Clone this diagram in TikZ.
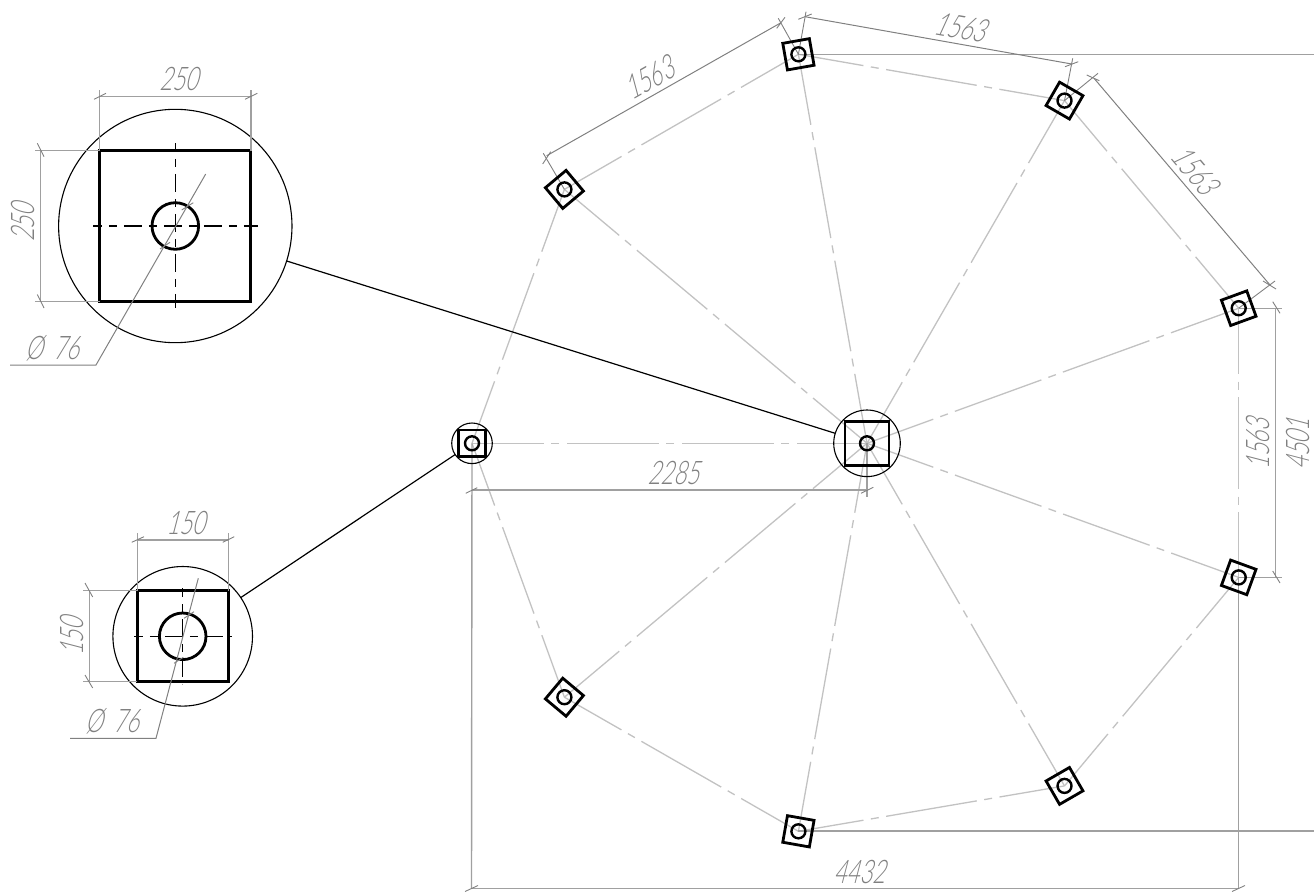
\documentclass[tikz,border=0pt]{standalone}
\usepackage{fontspec}
\newfontfamily\dimf[FakeSlant=0.26,FakeStretch=0.68]{Lato Light}
\definecolor{cgray}{HTML}{C2C2C2}
\definecolor{dgray}{HTML}{A0A0A0}
\definecolor{egray}{HTML}{808080}
\definecolor{tgray}{HTML}{808080}
\tikzset{
  cl/.style={draw=cgray,line width=0.026cm,dash pattern=on 1.84cm off 0.15cm on 0.16cm off 0.15cm},
  chain/.style={cl,dash phase=0.52cm},
  radial/.style={cl,dash phase=0.43cm},
  dimA/.style={draw=dgray,line width=0.028cm},
  dimB/.style={draw=egray,line width=0.02cm},
  tick/.style={draw=egray,line width=0.018cm},
  lab/.style={text=tgray,font=\dimf\fontsize{18.5pt}{20pt}\selectfont,inner sep=0pt},
  pad/.style={draw=black,line width=0.056cm,minimum size=0.54cm,inner sep=0pt,outer sep=0pt},
  bigpad/.style={pad,minimum size=0.88cm},
  hole/.style={circle,draw=black,line width=0.048cm,minimum size=0.28cm,inner sep=0pt,outer sep=0pt},
  ring/.style={circle,draw=black,line width=0.022cm,inner sep=0pt,outer sep=0pt},
  link/.style={draw=black,line width=0.024cm},
  dcenter/.style={draw=black,line width=0.024cm,dash pattern=on 0.36cm off 0.14cm on 0.16cm off 0.14cm},
  leader/.style={draw=egray,line width=0.02cm}
}
\begin{document}
\begin{tikzpicture}[x=0.02cm,y=-0.02cm]
\useasboundingbox (0,0) rectangle (1314,892);
% centres
\coordinate (cC) at (867,443.3);
\coordinate (cL) at (472,443.3);
\coordinate (c1) at (564.4,189.4);
\coordinate (c2) at (798.4,54.3);
\coordinate (c3) at (1064.5,100.6);
\coordinate (c4) at (1238.7,308.2);
\coordinate (c5) at (1238.7,577.4);
\coordinate (c6) at (1064.5,785.9);
\coordinate (c7) at (798.4,831.3);
\coordinate (c8) at (564.4,697.2);
% centre lines
\foreach \a/\b in {cL/c1,c1/c2,c2/c3,c3/c4,c4/c5,c5/c6,c6/c7,c7/c8,c8/cL}
  \draw[chain] (\a) -- (\b);
\foreach \b in {cL,c1,c2,c3,c4,c5,c6,c7,c8}
  \draw[radial] (cC) -- (\b);
% extension and long dimension lines
\coordinate (eR1) at (1314,54.3);
\coordinate (eR2) at (1314,831);
\coordinate (bL) at (471.5,888.5);
\coordinate (bR) at (1238.7,888.5);
\coordinate (e4) at (1281.5,308.2);
\coordinate (e5) at (1281.5,577.4);
\coordinate (d4) at (1275.5,308.2);
\coordinate (d5) at (1275.5,577.4);
\coordinate (eC) at (867,497);
\coordinate (dL) at (471.5,490);
\coordinate (dC) at (867,490);
\draw[dimA] (c2) -- (eR1);
\draw[dimA] (c7 |- eR2) -- (eR2);
\draw[dimA] (cL) -- (bL);
\draw[dimA] (c5) -- (bR);
\draw[dimA] (bL) -- (bR);
\draw[dimA] (c4) -- (e4);
\draw[dimA] (c5) -- (e5);
\draw[dimA] (d4) -- (d5);
\draw[dimA] (cC) -- (eC);
\draw[dimA] (dL) -- (dC);
\foreach \p/\q in {{1272.7,301.7}/{1280,313.3},{1272.7,571}/{1280,583},{465.7,493.3}/{477.3,487.7},{861,493.3}/{873.3,487.3},{465,891.5}/{478,885.5},{1232,891.5}/{1245,885.5}}
  \draw[tick] (\p) -- (\q);
% aligned dimensions
\coordinate (a1) at (546.7,155.7);
\coordinate (a2) at (781,22.7);
\coordinate (b2) at (805,16.7);
\coordinate (b3) at (1071.7,64);
\coordinate (f3) at (1094,78.3);
\coordinate (f4) at (1270,285);
\draw[dimB] (a1) -- (a2);
\draw[dimB] (b2) -- (b3);
\draw[dimB] (f3) -- (f4);
\foreach \p/\q in {c1/{543.3,153.3},c2/{778.3,18.3},c2/{806,11.7},c3/{1072.7,58.3},c3/{1098,73.3},c4/{1275,281}}
  \draw[tick] (\p) -- (\q);
\foreach \p/\q in {{542.7,164}/{550.7,151.7},{776.7,28.3}/{785,17.3},{798.3,19.3}/{811.7,14},{1065,66.7}/{1078.3,61.7},{1086.7,75}/{1099.3,80.7},{1263,281}/{1276,289}}
  \draw[tick] (\p) -- (\q);
% pads
\node[ring,minimum size=1.332cm] (C) at (cC) {};
\node[ring,minimum size=0.812cm] (L) at (cL) {};
\node[bigpad] (Cs) at (cC) {};
\node[hole] (Ch) at (cC) {};
\node[pad,minimum size=0.53cm] (Ls) at (cL) {};
\node[hole] (Lh) at (cL) {};
\foreach \n/\r in {1/40,2/10,3/60,4/20,5/-20,6/-60,7/-10,8/50}{
  \node[pad,rotate=\r] (P\n) at (c\n) {};
  \node[hole] (H\n) at (c\n) {};
}
% large detail
\node[ring,minimum size=4.668cm] (D1) at (175.3,226) {};
\node[draw=black,line width=0.066cm,minimum size=3.02cm,inner sep=0pt,outer sep=0pt] (D1s) at (175.3,226.2) {};
\node[hole,line width=0.056cm,minimum size=0.932cm] (D1h) at (175.3,226) {};
\draw[link] (D1) -- (C);
\draw[dcenter,dash phase=0.18cm] (93,226) -- (258,226);
\draw[dcenter,dash phase=0.18cm] (175.3,143) -- (175.3,308);
\draw[dimA] (99.7,150.7) -- (99.7,90);
\draw[dimA] (251,150.7) -- (251,90);
\draw[dimA] (99.7,96.7) -- (251,96.7);
\draw[dimA] (99.7,150.7) -- (35,150.7);
\draw[dimA] (99.7,301.7) -- (35,301.7);
\draw[dimA] (40.7,150.7) -- (40.7,301.7);
\draw[leader] (10,365) -- (96,365) -- (205.7,174);
\foreach \p/\q in {{94,99.3}/{106,93.3},{245,99.3}/{257.3,93.3},{37.3,143.3}/{44,156.7},{37.3,294.5}/{44,308},{181.7,210}/{193.3,202.7},{160,249}/{170,242.3}}
  \draw[tick] (\p) -- (\q);
% small detail
\node[ring,minimum size=2.792cm] (D2) at (182.7,636.3) {};
\node[draw=black,line width=0.066cm,minimum size=1.82cm,inner sep=0pt,outer sep=0pt] (D2s) at (182.8,636.2) {};
\node[hole,line width=0.056cm,minimum size=0.932cm] (D2h) at (182.7,636.3) {};
\draw[link] (D2) -- (L);
\draw[dcenter,dash phase=0.18cm] (134,636.3) -- (231.7,636.3);
\draw[dcenter,dash phase=0.18cm] (182.7,588) -- (182.7,684);
\draw[dimA] (137.3,590.7) -- (137.3,533);
\draw[dimA] (228.3,590.7) -- (228.3,533);
\draw[dimA] (137.3,540) -- (228.3,540);
\draw[dimA] (137.3,590.7) -- (82.7,590.7);
\draw[dimA] (137.3,681.7) -- (82.7,681.7);
\draw[dimA] (89.3,590.7) -- (89.3,681.7);
\draw[leader] (70,738.3) -- (156,738.3) -- (198.3,578.3);
\foreach \p/\q in {{131.7,542.3}/{144,536.7},{222.7,542.3}/{234.3,536.7},{85,583}/{92.7,597},{85,675}/{92.7,688},{184,618.3}/{194,611.7},{174,663.3}/{183.3,657.3}}
  \draw[tick] (\p) -- (\q);
% labels
\node[lab] (t1) at (178.5,79.5) {250};
\node[lab,rotate=90] (t2) at (23.5,222.7) {250};
\node[lab] (t3) at (52,348) {Ø\,\,76};
\node[lab] (t4) at (185.5,522.7) {150};
\node[lab,rotate=90] (t5) at (72.5,636.7) {150};
\node[lab] (t6) at (112,721.7) {Ø\,\,76};
\node[lab] (t7) at (673.3,473) {2285};
\node[lab] (t8) at (859.3,871.7) {4432};
\node[lab,rotate=90] (t9) at (1258,444) {1563};
\node[lab,rotate=90] (t10) at (1298,444) {4501};
\node[lab,rotate=29.6] (t11) at (649.3,78.3) {1563};
\node[lab,rotate=-10] (t12) at (960,27.3) {1563};
\node[lab,rotate=-50] (t13) at (1195,170) {1563};
\end{tikzpicture}
\end{document}
